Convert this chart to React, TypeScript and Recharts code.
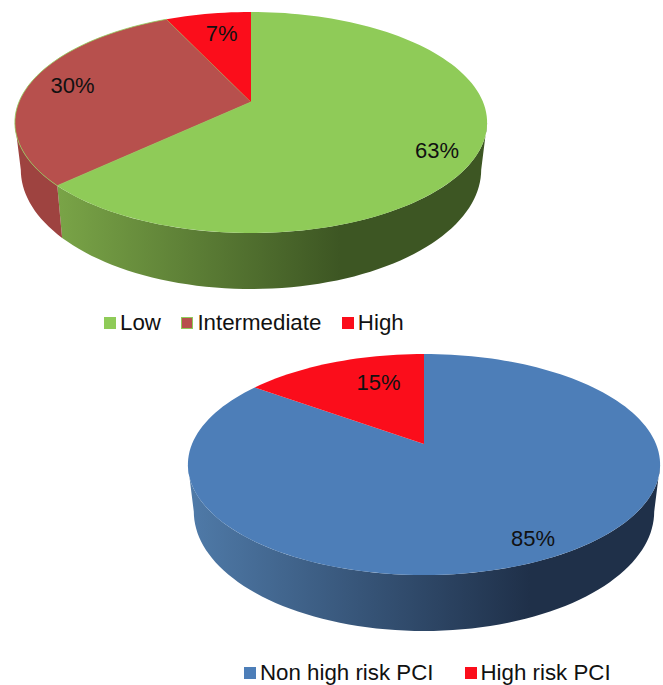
import React from 'react';
import { PieChart, Pie, Legend } from 'recharts';

const FONT = '"Liberation Sans", Arial, sans-serif';
const RED = '#fb0d1b';

const riskNames = ['Low', 'Intermediate', 'High'];
const riskValues = [63, 30, 7];
const riskFills = ['#8fcb58', '#b7504d', RED];
const riskWalls = ['url(#riskLowWall)', '#9e4340', '#b80a14'];
const riskStrokes = ['none', '#8fcb58', 'none'];
const riskLabelNudges = [[5, 12], [-1, -1], [6, 4]];

const pciNames = ['Non high risk PCI', 'High risk PCI'];
const pciValues = [85, 15];
const pciFills = ['#4d7eb8', RED];
const pciWalls = ['url(#pciWall)', '#b80a14'];
const pciStrokes = ['none', 'none'];
const pciLabelNudges = [[12, 7], [29, 6]];

// tilted disc: far edge foreshortened, so the centre sits above the ellipse middle
const TILT = 0.1855;
const SQUASH = 0.46;
const RADIUS = 232;
// floor of the disc relative to its top face
const WALL_DROP = 45.5;
const WALL_SX = 0.975;
const WALL_SY = 1.08;
// the side wall only shows between the two points where the rim turns back
const WALL_EDGE = (Math.asin(TILT) * 180) / Math.PI;

const project = (r: number, angle: number, reach = 1) => {
  const rad = (angle * Math.PI) / 180;
  const u = Math.cos(rad) * reach;
  const v = Math.sin(rad) * reach;
  const w = 1 + TILT * v;
  return { x: (r * u) / w, y: (-r * SQUASH * v) / w };
};

const rimPoints = (r: number, from: number, to: number) => {
  const steps = Math.max(2, Math.ceil(Math.abs(to - from) / 2));
  const pts = [];
  for (let i = 0; i <= steps; i++) {
    pts.push(project(r, from + ((to - from) * i) / steps));
  }
  return pts;
};

const toPath = (cx: number, cy: number, pts: { x: number; y: number }[]) =>
  pts.map((p, i) => `${i ? 'L' : 'M'}${(cx + p.x).toFixed(2)},${(cy + p.y).toFixed(2)}`).join(' ');

const TopFace = (props: any) => {
  const { cx, cy, outerRadius, startAngle, endAngle, fill, stroke } = props;
  const rim = rimPoints(outerRadius, startAngle, endAngle);
  return (
    <path
      d={`${toPath(cx, cy, [{ x: 0, y: 0 }, ...rim])} Z`}
      fill={fill}
      stroke={stroke}
      strokeWidth={0.8}
    />
  );
};

const SideWall = (props: any) => {
  const { cx, cy, outerRadius, startAngle, endAngle, fill } = props;
  const from = Math.min(startAngle, -WALL_EDGE);
  const to = Math.max(endAngle, -180 + WALL_EDGE);
  if (from <= to) return null;
  const rim = rimPoints(outerRadius, from, to);
  const floor = rim
    .map((p) => ({ x: p.x * WALL_SX, y: WALL_DROP + p.y * WALL_SY }))
    .reverse();
  return <path d={`${toPath(cx, cy, [...rim, ...floor])} Z`} fill={fill} />;
};

const PercentLabel = (nudges: number[][]) => (props: any) => {
  const { cx, cy, outerRadius, midAngle, index, value } = props;
  const p = project(outerRadius, midAngle, 0.8);
  const [dx, dy] = nudges[index];
  return (
    <text
      x={cx + p.x + dx}
      y={cy + p.y + dy}
      textAnchor="middle"
      dominantBaseline="central"
      fontFamily={FONT}
      fontSize={22}
      fill="#111"
    >
      {`${value}%`}
    </text>
  );
};

const LegendRow = ({ payload, gap }: any) => (
  <div style={{ display: 'flex', alignItems: 'center', fontFamily: FONT, fontSize: 22.3, color: '#111', lineHeight: '26px', whiteSpace: 'nowrap' }}>
    {payload
      .filter((item: any) => item.type !== 'none')
      .map((item: any, i: number) => (
        <span key={item.value} style={{ display: 'flex', alignItems: 'center', marginLeft: i ? gap : 0 }}>
          <span
            style={{
              width: 12,
              height: 12,
              marginRight: 4,
              background: item.color,
              outline: item.value === 'Intermediate' ? '1px solid #8fcb58' : 'none',
              outlineOffset: -1,
            }}
          />
          {item.value}
        </span>
      ))}
  </div>
);

interface Disc3DProps {
  names: string[];
  values: number[];
  fills: string[];
  walls: string[];
  strokes: string[];
  nudges: number[][];
  cx: number;
  cy: number;
  top: number;
  height: number;
  legendLeft: number;
  legendTop: number;
  legendGap: number;
  defs: React.ReactNode;
}

const Disc3D = ({ names, values, fills, walls, strokes, nudges, cx, cy, top, height, legendLeft, legendTop, legendGap, defs }: Disc3DProps) => {
  const faces = names.map((name, i) => ({ name, value: values[i], fill: fills[i], stroke: strokes[i] }));
  const sides = names.map((name, i) => ({ name, value: values[i], fill: walls[i] }));
  return (
    <div style={{ position: 'absolute', left: 0, top }}>
      <PieChart width={663} height={height} margin={{ top: 0, right: 0, bottom: 0, left: 0 }}>
        {defs}
        <Pie
          data={sides}
          dataKey="value"
          cx={cx}
          cy={cy}
          outerRadius={RADIUS}
          startAngle={90}
          endAngle={-270}
          legendType="none"
          shape={SideWall}
          stroke="none"
          label={false}
          labelLine={false}
          isAnimationActive={false}
        />
        <Pie
          data={faces}
          dataKey="value"
          cx={cx}
          cy={cy}
          outerRadius={RADIUS}
          startAngle={90}
          endAngle={-270}
          legendType="square"
          shape={TopFace}
          label={PercentLabel(nudges)}
          labelLine={false}
          isAnimationActive={false}
        />
        <Legend
          itemSorter={null}
          content={(p: any) => <LegendRow payload={p.payload} gap={legendGap} />}
          wrapperStyle={{ left: legendLeft, top: legendTop, width: 'auto', bottom: 'auto' }}
        />
      </PieChart>
    </div>
  );
};

export default function App() {
  return (
    <div style={{ position: 'absolute', left: 0, top: 0, width: 663, height: 685, overflow: 'hidden', background: '#fff' }}>
      <Disc3D
        names={riskNames}
        values={riskValues}
        fills={riskFills}
        walls={riskWalls}
        strokes={riskStrokes}
        nudges={riskLabelNudges}
        cx={251}
        cy={102}
        top={0}
        height={345}
        legendLeft={104}
        legendTop={310}
        legendGap={20.5}
        defs={
          <defs>
            <linearGradient id="riskLowWall" gradientUnits="userSpaceOnUse" x1={50} y1={0} x2={340} y2={0}>
              <stop offset="0%" stopColor="#7ba648" />
              <stop offset="100%" stopColor="#3d5623" />
            </linearGradient>
          </defs>
        }
      />
      <Disc3D
        names={pciNames}
        values={pciValues}
        fills={pciFills}
        walls={pciWalls}
        strokes={pciStrokes}
        nudges={pciLabelNudges}
        cx={424}
        cy={99}
        top={345}
        height={340}
        legendLeft={244}
        legendTop={315}
        legendGap={31}
        defs={
          <defs>
            <linearGradient id="pciWall" gradientUnits="userSpaceOnUse" x1={190} y1={0} x2={530} y2={0}>
              <stop offset="0%" stopColor="#4f7aa8" />
              <stop offset="100%" stopColor="#1f3049" />
            </linearGradient>
          </defs>
        }
      />
    </div>
  );
}
